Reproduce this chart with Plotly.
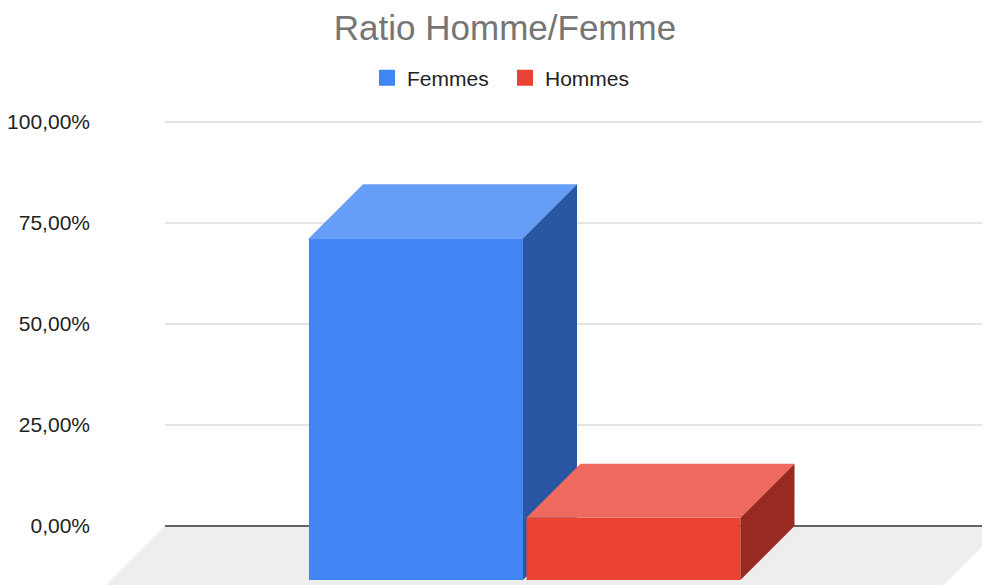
import plotly.graph_objects as go

# data
series = ["Femmes", "Hommes"]
values = [84.6, 15.4]
tick_vals = [0, 25, 50, 75, 100]
tick_text = ["0,00%", "25,00%", "50,00%", "75,00%", "100,00%"]

front_colors = ["#4285F4", "#EA4335"]
top_colors = ["#669DF6", "#EE6A5E"]
side_colors = ["#2A57A3", "#992A22"]

# geometry of the fake 3D view (x: back plane spans 0..1)
centers = [0.3697, 0.6333]
bar_w = 0.2594
dx = 0.0655   # depth offset, x units
dy = 13.37    # depth offset, y units

fig = go.Figure()

# floor
fig.add_shape(type="path", xref="x", yref="y", layer="below",
              path=f"M 0 0 L 1.015 0 L {1.015 - dx * 1.2} {-dy * 1.2} L {-dx * 1.2} {-dy * 1.2} Z",
              fillcolor="#EEEEEE", line=dict(width=0))

# gridlines on back plane
for v in tick_vals:
    fig.add_shape(type="line", xref="x", yref="y", layer="below",
                  x0=0, x1=1.05, y0=v, y1=v,
                  line=dict(color="#333333" if v == 0 else "#CCCCCC",
                            width=1.3 if v == 0 else 1))

for name, val, c, fc, tc, sc in zip(series, values, centers, front_colors,
                                     top_colors, side_colors):
    xl, xr = c - bar_w / 2, c + bar_w / 2
    # front face
    fig.add_trace(go.Scatter(
        x=[xl - dx, xr - dx, xr - dx, xl - dx], y=[-dy, -dy, val - dy, val - dy],
        fill="toself", fillcolor=fc, mode="none", showlegend=False, hoverinfo="skip"))
    # top face
    fig.add_trace(go.Scatter(
        x=[xl - dx, xr - dx, xr, xl], y=[val - dy, val - dy, val, val],
        fill="toself", fillcolor=tc, mode="none", showlegend=False, hoverinfo="skip"))
    # side face
    fig.add_trace(go.Scatter(
        x=[xr - dx, xr, xr, xr - dx], y=[-dy, 0, val, val - dy],
        fill="toself", fillcolor=sc, mode="none", showlegend=False, hoverinfo="skip"))
    # legend entry
    fig.add_trace(go.Scatter(
        x=[None], y=[None], mode="markers", name=name,
        marker=dict(symbol="square", size=16, color=fc)))

# page body has an 8px margin, so the figure is sized/placed to compensate
fig.update_layout(
    width=974, height=577,
    margin=dict(l=92, r=0, t=92, b=0),
    paper_bgcolor="white", plot_bgcolor="white",
    font=dict(family="Liberation Sans, Arial, sans-serif", color="#222222"),
    title=dict(text="Ratio Homme/Femme", xref="container", x=497 / 974, xanchor="center",
               yref="container", y=1 - 20 / 577, yanchor="middle",
               font=dict(size=35, color="#757575")),
    legend=dict(orientation="h", xref="container", x=497 / 974, xanchor="center",
                yref="container", y=1 - 70 / 577, yanchor="middle",
                font=dict(size=21, color="#222222"), itemsizing="trace",
                entrywidth=93),
    xaxis=dict(range=[-65 / 825, 817 / 825], visible=False, fixedrange=True),
    yaxis=dict(range=[-14.6, 105.45], tickvals=tick_vals, ticktext=tick_text,
               showgrid=False, zeroline=False, showline=False, ticks="",
               ticklabelstandoff=9, tickfont=dict(size=21, color="#222222"),
               fixedrange=True),
)

fig.write_html("out.html")
